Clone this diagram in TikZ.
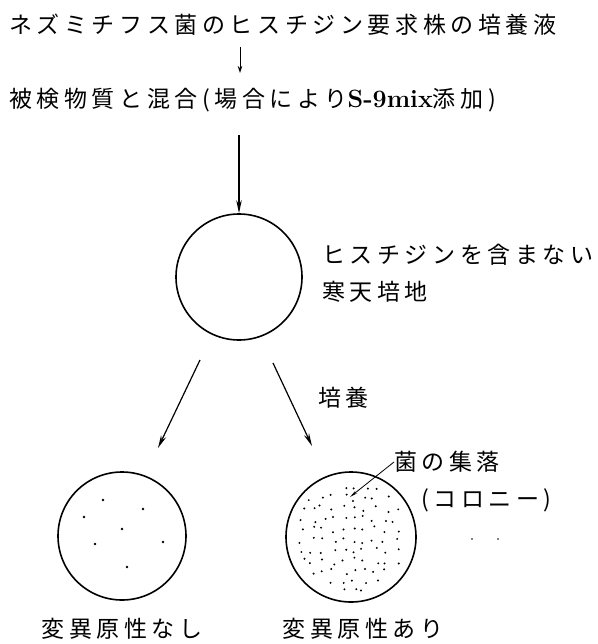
\documentclass[tikz,border=0pt]{standalone}
\usepackage{fontspec}
\usetikzlibrary{arrows.meta}
\newfontfamily\jp[LetterSpace=20]{Noto Sans CJK JP}
\begin{document}
\begin{tikzpicture}[x=1pt,y=-1pt,
  jtext/.style={inner sep=0pt,font=\jp\fontsize{23}{27}\selectfont},
  dish/.style={circle,draw,line width=1.6pt,inner sep=0pt},
  flow/.style={line width=1.2pt,-{Stealth[length=13pt,width=5.5pt]}},
  colony/.style={fill,circle,inner sep=0pt,minimum size=2.8pt}]
\useasboundingbox (0,0) rectangle (597,644);

% header lines
\node[jtext,anchor=west] (t1) at (9,25) {ネズミチフス菌のヒスチジン要求株の培養液};
\node[jtext,anchor=west] (t2) at (9,100) {被検物質と混合(場合により{\rmfamily\bfseries\fontsize{25}{27}\selectfont S-9mix}添加)};
\coordinate (a1s) at (240,47);
\coordinate (a1e) at (240,73);
\draw[line width=1pt,-{Stealth[length=7pt,width=4.5pt]}] (a1s) -- (a1e);

% plate before incubation
\coordinate (a2s) at (239,135);
\node[dish,minimum size=126pt] (c0) at (239,277) {};
\draw[flow] (a2s) -- (c0.north);
\node[jtext,anchor=west] (m1) at (322,255) {ヒスチジンを含まない};
\node[jtext,anchor=west] (m2) at (322,292) {寒天培地};

% incubated plates
\node[dish,minimum size=128pt] (c1) at (122,536) {};
\node[dish,minimum size=130pt] (c2) at (351,537) {};
\coordinate (l1s) at (200,360);
\coordinate (l1e) at (158,448);
\coordinate (r1s) at (273,363);
\coordinate (r1e) at (312,446);
\draw[flow] (l1s) -- (l1e);
\draw[flow] (r1s) -- (r1e);
\node[jtext,anchor=west] (inc) at (318,398) {培養};

% few revertant colonies
\foreach \px/\py in {103/500,143/509,84/517,122/529,95/544,163/542,127/567}
  \node[colony] at (\px,\py) {};

% many revertant colonies: jittered grid inside the dish
\pgfmathsetseed{4711}
\foreach \gx in {-60,-49.5,...,60}{
  \foreach \gy in {-60,-49.5,...,60}{
    \pgfmathsetmacro{\jx}{\gx+3.5*rand}
    \pgfmathsetmacro{\jy}{\gy+3.5*rand}
    \pgfmathparse{veclen(\jx,\jy)<56?1:0}
    \ifnum\pgfmathresult=1
      \fill (c2.center) ++(\jx,\jy) circle (1.1pt);
    \fi
  }
}
\node[jtext,anchor=west] (lab) at (394,462) {菌の集落};
\node[jtext,anchor=west] (col) at (421,500) {(コロニー)};
\coordinate (p1) at (350,497);
\draw[line width=0.8pt,-{Stealth[length=8pt,width=3pt]}] (lab.west) -- (p1);
\fill (472,539) circle (0.8pt);
\fill (498,539) circle (0.8pt);

\node[jtext] (r1) at (122,629) {変異原性なし};
\node[jtext] (r2) at (363,629) {変異原性あり};
\end{tikzpicture}
\end{document}
